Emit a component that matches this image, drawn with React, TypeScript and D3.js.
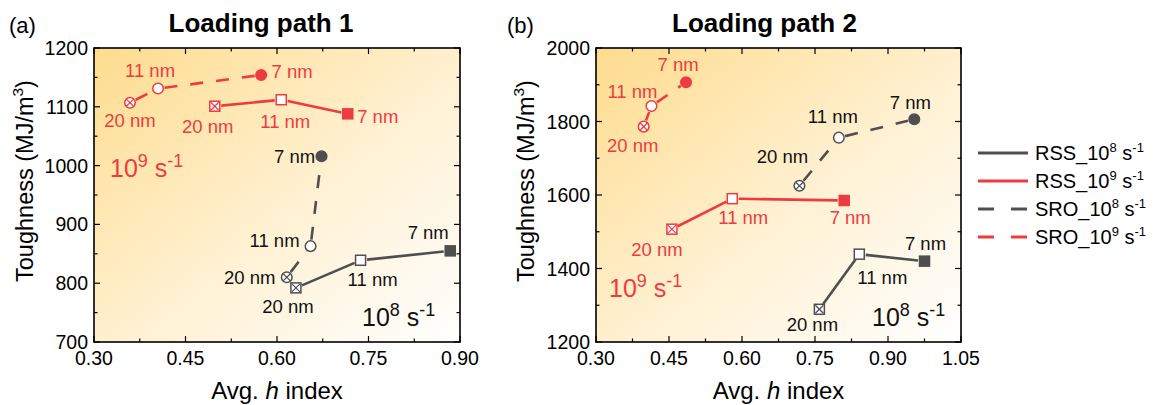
import React from 'react';
import * as d3 from 'd3';

// ---------- data ----------
const sizeLabels = ['20 nm', '11 nm', '7 nm'];

// Panel (a) – Loading path 1
const aRss8X = [0.631, 0.737, 0.884];
const aRss8Y = [792, 839, 855];
const aRss9X = [0.498, 0.607, 0.716];
const aRss9Y = [1101, 1112, 1088];
const aSro8X = [0.616, 0.655, 0.673];
const aSro8Y = [810, 863, 1016];
const aSro9X = [0.359, 0.405, 0.574];
const aSro9Y = [1107, 1131, 1154];

// Panel (b) – Loading path 2
const bRss8X = [0.759, 0.841, 0.975];
const bRss8Y = [1289, 1439, 1420];
const bRss9X = [0.456, 0.58, 0.81];
const bRss9Y = [1507, 1590, 1585];
const bSro8X = [0.718, 0.799, 0.954];
const bSro8Y = [1625, 1756, 1806];
const bSro9X = [0.398, 0.414, 0.485];
const bSro9Y = [1786, 1842, 1907];

const aXTicks = [0.3, 0.45, 0.6, 0.75, 0.9];
const aYTicks = [700, 800, 900, 1000, 1100, 1200];
const bXTicks = [0.3, 0.45, 0.6, 0.75, 0.9, 1.05];
const bYTicks = [1200, 1400, 1600, 1800, 2000];

const legendNames = ['RSS_10', 'RSS_10', 'SRO_10', 'SRO_10'];
const legendExps = ['8', '9', '8', '9'];

// ---------- layout / style ----------
const RED = '#ee3b3f';
const GRAY = '#4f4f4f';
const FONT = "'Liberation Sans', Arial, Helvetica, sans-serif";

// label offsets in px (relative to marker), order: 20, 11, 7 nm
const aOff = {
  rss8: [[-8, 19], [12, 19], [-22, -18]],
  rss9: [[-7, 20], [4, 22], [30, 3]],
  sro8: [[-37, 0], [-36, -6], [-27, 0]],
  sro9: [[0, 18], [-8, -18], [31, -4]],
};
const bOff = {
  rss8: [[-7, 15], [23, 23], [1, -18]],
  rss9: [[-15, 20], [11, 19], [6, 17]],
  sro8: [[-17, -29], [-6, -21], [-4, -17]],
  sro9: [[-11, 19], [-19, -15], [-8, -18]],
};

type Series = { xs: number[]; ys: number[]; color: string; dashed: boolean; square: boolean; off: number[][] };

const panels = [
  {
    id: 'a', tag: '(a)', title: 'Loading path 1',
    left: 94, right: 460, top: 48, bottom: 342,
    xDomain: [0.3, 0.9], yDomain: [700, 1200],
    xTicks: aXTicks, yTicks: aYTicks, yMinorStep: 50,
    tagX: 9, yLabelX: 33, titleShift: -16,
    series: [
      { xs: aRss8X, ys: aRss8Y, color: GRAY, dashed: false, square: true, off: aOff.rss8 },
      { xs: aRss9X, ys: aRss9Y, color: RED, dashed: false, square: true, off: aOff.rss9 },
      { xs: aSro8X, ys: aSro8Y, color: GRAY, dashed: true, square: false, off: aOff.sro8 },
      { xs: aSro9X, ys: aSro9Y, color: RED, dashed: true, square: false, off: aOff.sro9 },
    ] as Series[],
    rate9: [110, 177], rate8: [362, 326],
  },
  {
    id: 'b', tag: '(b)', title: 'Loading path 2',
    left: 596, right: 961, top: 48, bottom: 342,
    xDomain: [0.3, 1.05], yDomain: [1200, 2000],
    xTicks: bXTicks, yTicks: bYTicks, yMinorStep: 100,
    tagX: 507, yLabelX: 534, titleShift: -14,
    series: [
      { xs: bRss8X, ys: bRss8Y, color: GRAY, dashed: false, square: true, off: bOff.rss8 },
      { xs: bRss9X, ys: bRss9Y, color: RED, dashed: false, square: true, off: bOff.rss9 },
      { xs: bSro8X, ys: bSro8Y, color: GRAY, dashed: true, square: false, off: bOff.sro8 },
      { xs: bSro9X, ys: bSro9Y, color: RED, dashed: true, square: false, off: bOff.sro9 },
    ] as Series[],
    rate9: [609, 297], rate8: [872, 326],
  },
];

function Marker({ x, y, i, color, square }: { x: number; y: number; i: number; color: string; square: boolean }) {
  const fill = i === 2 ? color : '#ffffff';
  const s = 10;
  const r = 5.3;
  const cross = i === 0;
  const c = square ? 4 : 3.6;
  return (
    <g>
      {square ? (
        <rect x={x - s / 2} y={y - s / 2} width={s} height={s} fill={fill} stroke={color} strokeWidth={1.5} />
      ) : (
        <circle cx={x} cy={y} r={r} fill={fill} stroke={color} strokeWidth={1.5} />
      )}
      {cross && (
        <g stroke={color} strokeWidth={1.2}>
          <line x1={x - c} y1={y - c} x2={x + c} y2={y + c} />
          <line x1={x - c} y1={y + c} x2={x + c} y2={y - c} />
        </g>
      )}
    </g>
  );
}

function Rate({ x, y, exp, color }: { x: number; y: number; exp: string; color: string }) {
  return (
    <text x={x} y={y} fill={color} fontSize={25} fontFamily={FONT}>
      10<tspan fontSize={18} dy={-10}>{exp}</tspan>
      <tspan fontSize={25} dy={10}> s</tspan>
      <tspan fontSize={18} dy={-10}>-1</tspan>
    </text>
  );
}

function Panel({ p }: { p: (typeof panels)[number] }) {
  const x = d3.scaleLinear().domain(p.xDomain).range([p.left, p.right]);
  const y = d3.scaleLinear().domain(p.yDomain).range([p.bottom, p.top]);
  const xMinor = p.xTicks.slice(0, -1).map((t, i) => (t + p.xTicks[i + 1]) / 2);
  const yMinor = d3.range(p.yDomain[0], p.yDomain[1] + 0.001, p.yMinorStep).filter((v) => !p.yTicks.includes(v));
  const gradId = 'bg-' + p.id;
  const cx = (p.left + p.right) / 2;
  const maj = 6;
  const min = 3.5;
  const seg = (s: Series) => {
    const out: JSX.Element[] = [];
    for (let i = 0; i < s.xs.length - 1; i++) {
      const x1 = x(s.xs[i]), y1 = y(s.ys[i]), x2 = x(s.xs[i + 1]), y2 = y(s.ys[i + 1]);
      const L = Math.hypot(x2 - x1, y2 - y1);
      const g = 6.5;
      if (L <= 2 * g) continue;
      const ux = (x2 - x1) / L, uy = (y2 - y1) / L;
      out.push(
        <line key={i} x1={x1 + ux * g} y1={y1 + uy * g} x2={x2 - ux * g} y2={y2 - uy * g}
          stroke={s.color} strokeWidth={2.6} strokeDasharray={s.dashed ? '13,13' : undefined} />
      );
    }
    return out;
  };
  return (
    <g>
      <defs>
        <linearGradient id={gradId} x1="0" y1="0" x2="1" y2="1">
          <stop offset="0" stopColor="#fedc8e" />
          <stop offset="0.55" stopColor="#fff1d3" />
          <stop offset="1" stopColor="#ffffff" />
        </linearGradient>
      </defs>
      <rect x={p.left} y={p.top} width={p.right - p.left} height={p.bottom - p.top} fill={`url(#${gradId})`} />
      {/* ticks */}
      <g stroke="#000" strokeWidth={1.2}>
        {p.xTicks.map((t) => (
          <g key={'xt' + t}>
            <line x1={x(t)} x2={x(t)} y1={p.bottom} y2={p.bottom - maj} />
            <line x1={x(t)} x2={x(t)} y1={p.top} y2={p.top + maj} />
          </g>
        ))}
        {xMinor.map((t) => (
          <g key={'xm' + t}>
            <line x1={x(t)} x2={x(t)} y1={p.bottom} y2={p.bottom - min} />
            <line x1={x(t)} x2={x(t)} y1={p.top} y2={p.top + min} />
          </g>
        ))}
        {p.yTicks.map((t) => (
          <g key={'yt' + t}>
            <line x1={p.left} x2={p.left + maj} y1={y(t)} y2={y(t)} />
            <line x1={p.right} x2={p.right - maj} y1={y(t)} y2={y(t)} />
          </g>
        ))}
        {yMinor.map((t) => (
          <g key={'ym' + t}>
            <line x1={p.left} x2={p.left + min} y1={y(t)} y2={y(t)} />
            <line x1={p.right} x2={p.right - min} y1={y(t)} y2={y(t)} />
          </g>
        ))}
      </g>
      <rect x={p.left} y={p.top} width={p.right - p.left} height={p.bottom - p.top} fill="none" stroke="#000" strokeWidth={1.6} />
      {/* tick labels */}
      <g fontFamily={FONT} fontSize={19.5} fill="#000">
        {p.xTicks.map((t) => (
          <text key={'xl' + t} x={x(t)} y={p.bottom + 23} textAnchor="middle">{d3.format('.2f')(t)}</text>
        ))}
        {p.yTicks.map((t) => (
          <text key={'yl' + t} x={p.left - 6} y={y(t) + 7} textAnchor="end">{d3.format('d')(t)}</text>
        ))}
      </g>
      {/* axis titles */}
      <text x={cx} y={399} textAnchor="middle" fontFamily={FONT} fontSize={24}>
        Avg. <tspan fontStyle="italic">h</tspan> index
      </text>
      <text transform={`translate(${p.yLabelX},181) rotate(-90)`} textAnchor="middle" fontFamily={FONT} fontSize={23.5}>
        Toughness (MJ/m<tspan fontSize={15.5} dy={-10}>3</tspan><tspan dy={10}>)</tspan>
      </text>
      <text x={cx + p.titleShift} y={32} textAnchor="middle" fontFamily={FONT} fontSize={26} fontWeight="bold">{p.title}</text>
      <text x={p.tagX} y={33} fontFamily={FONT} fontSize={22}>{p.tag}</text>
      {/* series lines */}
      {p.series.map((s, k) => <g key={'l' + k}>{seg(s)}</g>)}
      {/* markers */}
      {p.series.map((s, k) => (
        <g key={'m' + k}>
          {s.xs.map((v, i) => (
            <Marker key={i} x={x(v)} y={y(s.ys[i])} i={i} color={s.color} square={s.square} />
          ))}
        </g>
      ))}
      {/* point labels */}
      {p.series.map((s, k) => (
        <g key={'t' + k} fontFamily={FONT} fontSize={18.5} fill={s.color === RED ? RED : '#111'}>
          {s.xs.map((v, i) => (
            <text key={i} x={x(v) + s.off[i][0]} y={y(s.ys[i]) + s.off[i][1]} textAnchor="middle" dominantBaseline="central">
              {sizeLabels[i]}
            </text>
          ))}
        </g>
      ))}
      <Rate x={p.rate9[0]} y={p.rate9[1]} exp="9" color={RED} />
      <Rate x={p.rate8[0]} y={p.rate8[1]} exp="8" color="#111" />
    </g>
  );
}

function Legend() {
  const x0 = 978, x1 = 1028, y0 = 153, step = 28;
  const colors = [GRAY, RED, GRAY, RED];
  const dashed = [false, false, true, true];
  return (
    <g fontFamily={FONT} fontSize={20}>
      {legendNames.map((n, i) => (
        <g key={i}>
          <line x1={x0} x2={x1} y1={y0 + i * step} y2={y0 + i * step} stroke={colors[i]} strokeWidth={3}
            strokeDasharray={dashed[i] ? '16,17' : undefined} />
          <text x={1035} y={y0 + i * step + 7}>
            {n}<tspan fontSize={13} dy={-8}>{legendExps[i]}</tspan>
            <tspan fontSize={20} dy={8}> s</tspan>
            <tspan fontSize={13} dy={-8}>-1</tspan>
          </text>
        </g>
      ))}
    </g>
  );
}

export default function App() {
  return (
    <svg width={1156} height={405} style={{ position: 'fixed', left: 0, top: 0, background: '#fff' }}>
      <rect width={1156} height={405} fill="#fff" />
      {panels.map((p) => <Panel key={p.id} p={p} />)}
      <Legend />
    </svg>
  );
}
